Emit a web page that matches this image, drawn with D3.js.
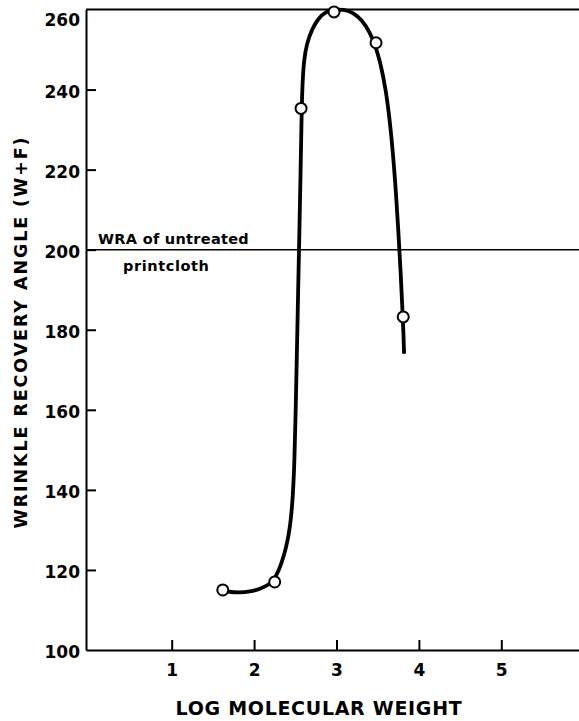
<!DOCTYPE html>
<html>
<head>
<meta charset="utf-8">
<script src="https://cdn.jsdelivr.net/npm/d3@7"></script>
<style>
  body { margin: 0; background: #fff; }
  svg { display: block; }
  .axis text { font-family: "DejaVu Sans", sans-serif; font-weight: bold; font-size: 17px; fill: #000; }
  .axis path, .axis line { stroke: #000; stroke-width: 2px; }
  .lbl { font-family: "DejaVu Sans", sans-serif; font-weight: bold; fill: #000; }
</style>
</head>
<body>
<div id="graphic"></div>
<script>
(function() {
  var width = 579, height = 721;

  /*** DATA ***/
  // measured points
  var logMW = [1.62, 2.25, 2.57, 2.97, 3.48, 3.81];
  var wra = [115, 117, 235.3, 259.4, 251.7, 183.2];
  // hand-drawn fitted curve
  var curveX = [1.68, 1.8, 1.95, 2.09, 2.2, 2.27, 2.33, 2.39, 2.44, 2.47, 2.49, 2.505, 2.52, 2.535, 2.55, 2.565, 2.575, 2.585, 2.605, 2.64, 2.70, 2.78, 2.87, 2.97, 3.08, 3.2, 3.31, 3.40, 3.47, 3.53, 3.60, 3.66, 3.71, 3.75, 3.78, 3.80, 3.815, 3.82];
  var curveY = [114.6, 114.3, 114.5, 115.4, 116.5, 118.5, 121.5, 125.5, 131, 138, 147, 160, 175, 190, 205, 220, 232, 241, 247.5, 251.5, 255, 257.8, 259.5, 260.0, 260.0, 259.3, 257.3, 254.5, 251, 247, 240, 230, 218, 205, 194, 185, 178, 174];
  var xTicks = [1, 2, 3, 4, 5];
  var yTicks = [100, 120, 140, 160, 180, 200, 220, 240, 260];
  var untreatedWRA = 200;

  var svg = d3.select("#graphic")
    .append("svg")
    .attr("width", width)
    .attr("height", height);

  /*** SCALES ***/
  var x = d3.scaleLinear().domain([-0.04, 6]).range([86, 86 + 6.04 * 82.4]);
  var y = d3.scaleLinear().domain([100, 260]).range([650, 9.5]);

  /*** AXES ***/
  svg.append("g")
    .attr("class", "axis axisX")
    .attr("transform", "translate(0," + y(100) + ")")
    .call(d3.axisBottom(x).tickValues(xTicks).tickSizeInner(-10).tickSizeOuter(0).tickPadding(14)
      .tickFormat(d3.format("d")));

  svg.append("g")
    .attr("class", "axis axisY")
    .attr("transform", "translate(" + x(-0.04) + ",0)")
    .call(d3.axisLeft(y).tickValues(yTicks).tickSizeInner(-10).tickSizeOuter(0).tickPadding(6)
      .tickFormat(d3.format("d")));

  svg.selectAll(".axisY .tick text").attr("dy", function(d) { return d === 260 ? "0.95em" : "0.45em"; });
  svg.selectAll(".axisY .tick").filter(function(d) { return d === 260 || d === 100; }).select("line").remove();

  // top frame line
  svg.append("line")
    .attr("x1", x(-0.04)).attr("x2", width)
    .attr("y1", y(260)).attr("y2", y(260))
    .attr("stroke", "#000").attr("stroke-width", 2);

  /*** UNTREATED REFERENCE LINE ***/
  svg.append("line")
    .attr("x1", x(-0.04)).attr("x2", width)
    .attr("y1", y(untreatedWRA)).attr("y2", y(untreatedWRA))
    .attr("stroke", "#000").attr("stroke-width", 1.6);

  svg.append("text").attr("class", "lbl")
    .attr("x", 98).attr("y", y(untreatedWRA) - 6)
    .style("font-size", "14.5px")
    .style("letter-spacing", "0.3px")
    .text("WRA of untreated");
  svg.append("text").attr("class", "lbl")
    .attr("x", 123).attr("y", y(untreatedWRA) + 21)
    .style("font-size", "14.5px")
    .style("letter-spacing", "0.6px")
    .text("printcloth");

  /*** CURVE ***/
  var line = d3.line()
    .x(function(d, i) { return x(curveX[i]); })
    .y(function(d, i) { return y(curveY[i]); })
    .curve(d3.curveBasis);

  svg.append("path")
    .attr("d", line(curveX))
    .attr("fill", "none")
    .attr("stroke", "#000")
    .attr("stroke-width", 3.8)
    .attr("stroke-linecap", "butt");

  /*** POINTS ***/
  svg.selectAll(".pt")
    .data(logMW).enter().append("circle")
    .attr("class", "pt")
    .attr("cx", function(d) { return x(d); })
    .attr("cy", function(d, i) { return y(wra[i]); })
    .attr("r", 5.5)
    .attr("fill", "#fff")
    .attr("stroke", "#000")
    .attr("stroke-width", 2);

  /*** AXIS TITLES ***/
  svg.append("text").attr("class", "lbl")
    .attr("x", 319).attr("y", 715)
    .attr("text-anchor", "middle")
    .style("font-size", "19px")
    .style("letter-spacing", "0.7px")
    .text("LOG MOLECULAR WEIGHT");

  svg.append("text").attr("class", "lbl")
    .attr("transform", "translate(27,332) rotate(-90)")
    .attr("text-anchor", "middle")
    .style("font-size", "17.5px")
    .style("letter-spacing", "1.9px")
    .text("WRINKLE RECOVERY ANGLE (W+F)");
})();
</script>
</body>
</html>
